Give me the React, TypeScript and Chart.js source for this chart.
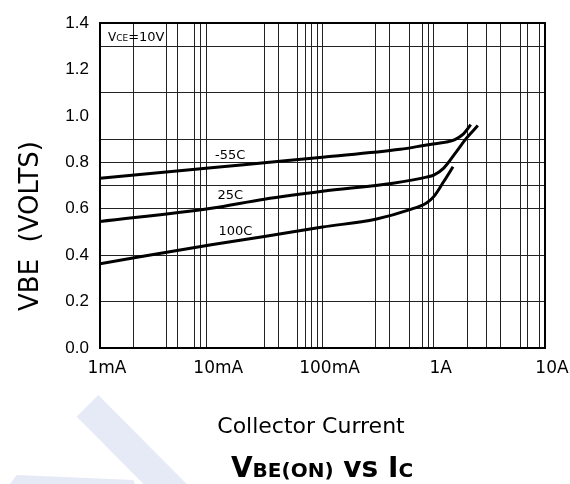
import React, { useEffect, useRef } from "react";
import { Chart, registerables } from "chart.js";

Chart.register(...registerables);

// ---- data ----
const seriesNames = ["-55C", "25C", "100C"];

const currentM55 = [0.001, 0.01, 0.03, 0.1, 0.5, 0.9, 1.3, 1.55, 1.83, 2.15];
const vbeM55 = [0.731, 0.776, 0.798, 0.822, 0.856, 0.876, 0.887, 0.898, 0.92, 0.962];

const current25 = [0.001, 0.01, 0.03, 0.1, 0.43, 0.86, 1.0, 1.23, 1.6, 1.97, 2.49];
const vbe25 = [0.545, 0.602, 0.641, 0.675, 0.71, 0.736, 0.745, 0.775, 0.846, 0.904, 0.958];

const current100 = [0.001, 0.01, 0.03, 0.1, 0.3, 0.6, 0.86, 1.0, 1.23, 1.49];
const vbe100 = [0.363, 0.445, 0.48, 0.521, 0.555, 0.595, 0.625, 0.652, 0.717, 0.781];

const xTickValues = [0.001, 0.01, 0.1, 1, 10];
const xTickLabels = ["1mA", "10mA", "100mA", "1A", "10A"];
const xGridValues = [
  0.001, 0.002, 0.004, 0.005, 0.007, 0.008, 0.009,
  0.03, 0.04, 0.06, 0.07, 0.08, 0.09, 0.1,
  0.3, 0.4, 0.6, 0.8, 0.9, 1,
  2, 3, 4, 6, 7, 9, 10,
];

const yLabelValues = [0, 0.2, 0.4, 0.6, 0.8, 1.0, 1.2, 1.4];
const yGridValues = [0, 0.2, 0.4, 0.6, 0.7, 0.8, 0.9, 1.1, 1.3, 1.4];

// curve label anchors (current, vbe)
const labelCurrents = [0.0108, 0.0114, 0.0116];
const labelVbe = [0.813, 0.64, 0.4875];

const FONT = '"DejaVu Sans", "Liberation Sans", Arial, sans-serif';
const FONT2 = '"Liberation Sans", Arial, sans-serif';

function near(a: number, list: number[]) {
  return list.some((v) => Math.abs(v - a) < 1e-6);
}

const decorPlugin = {
  id: "decor",
  beforeDraw(chart: any) {
    const ctx = chart.ctx;
    ctx.save();
    ctx.fillStyle = "#e6eaf6";
    ctx.beginPath();
    ctx.moveTo(76.7, 416.7);
    ctx.lineTo(98.3, 395);
    ctx.lineTo(186.7, 484);
    ctx.lineTo(143.5, 484);
    ctx.closePath();
    ctx.fill();
    ctx.beginPath();
    ctx.moveTo(16.7, 475);
    ctx.lineTo(133.3, 480);
    ctx.lineTo(135, 484);
    ctx.lineTo(10, 484);
    ctx.closePath();
    ctx.fill();
    ctx.restore();
  },
  afterDraw(chart: any) {
    const ctx = chart.ctx;
    const ca = chart.chartArea;
    const xs = chart.scales.x;
    const ys = chart.scales.y;
    ctx.save();
    // frame
    ctx.strokeStyle = "#000";
    ctx.lineWidth = 2;
    ctx.strokeRect(ca.left, ca.top, ca.right - ca.left, ca.bottom - ca.top);

    ctx.fillStyle = "#000";
    // y tick labels
    ctx.font = `17px ${FONT2}`;
    ctx.textAlign = "right";
    ctx.textBaseline = "middle";
    yLabelValues.forEach((v) => {
      ctx.fillText(v.toFixed(1), ca.left - 11, ys.getPixelForValue(v));
    });
    // x tick labels
    ctx.font = `17px ${FONT}`;
    ctx.textAlign = "center";
    xTickValues.forEach((v, i) => {
      ctx.fillText(xTickLabels[i], xs.getPixelForValue(v) + 7, ca.bottom + 21);
    });

    // curve labels
    ctx.font = `13px ${FONT}`;
    ctx.textAlign = "left";
    ctx.textBaseline = "alphabetic";
    seriesNames.forEach((n, i) => {
      ctx.fillText(n, xs.getPixelForValue(labelCurrents[i]), ys.getPixelForValue(labelVbe[i]));
    });

    // VCE=10V
    let x = ca.left + 8;
    const by = ca.top + 18;
    ctx.font = `12px ${FONT}`;
    ctx.fillText("V", x, by);
    x += ctx.measureText("V").width;
    ctx.font = `9px ${FONT}`;
    ctx.fillText("CE", x, by);
    x += ctx.measureText("CE").width;
    ctx.font = `13px ${FONT}`;
    ctx.fillText("=10V", x, by);

    // x axis title
    ctx.font = `22px ${FONT}`;
    ctx.textAlign = "center";
    ctx.fillText("Collector Current", 311, 433);

    // y axis title
    ctx.save();
    ctx.translate(38, 226);
    ctx.rotate(-Math.PI / 2);
    ctx.textAlign = "center";
    ctx.font = `26px ${FONT}`;
    ctx.fillText("VBE  (VOLTS)", 0, 0);
    ctx.restore();

    // main title with mixed sizes
    const runs = [
      { t: "V", s: 28 },
      { t: "BE(ON)", s: 20 },
      { t: " vs ", s: 28 },
      { t: "I", s: 28 },
      { t: "C", s: 20 },
    ];
    let total = 0;
    runs.forEach((r) => {
      ctx.font = `bold ${r.s}px ${FONT}`;
      total += ctx.measureText(r.t).width;
    });
    let tx = 322 - total / 2;
    ctx.textAlign = "left";
    runs.forEach((r) => {
      ctx.font = `bold ${r.s}px ${FONT}`;
      ctx.fillText(r.t, tx, 477);
      tx += ctx.measureText(r.t).width;
    });
    ctx.restore();
  },
};

export default function App() {
  const ref = useRef<HTMLCanvasElement | null>(null);
  useEffect(() => {
    if (!ref.current) return;
    const mk = (xs: number[], ys: number[]) => xs.map((x, i) => ({ x, y: ys[i] }));
    const lineStyle = {
      showLine: true,
      borderColor: "#000",
      borderWidth: 3,
      pointRadius: 0,
      cubicInterpolationMode: "monotone" as const,
      fill: false,
    };
    const chart = new Chart(ref.current, {
      type: "scatter",
      data: {
        datasets: [
          { label: seriesNames[0], data: mk(currentM55, vbeM55), ...lineStyle },
          { label: seriesNames[1], data: mk(current25, vbe25), ...lineStyle },
          { label: seriesNames[2], data: mk(current100, vbe100), ...lineStyle },
        ],
      },
      options: {
        animation: false,
        responsive: false,
        devicePixelRatio: 1,
        layout: { padding: { left: 100, right: 25, top: 23, bottom: 136 } },
        plugins: { legend: { display: false }, tooltip: { enabled: false } },
        scales: {
          x: {
            type: "logarithmic",
            min: 0.001,
            max: 10,
            afterBuildTicks: (s: any) => {
              s.ticks = xGridValues.map((v) => ({ value: v }));
            },
            ticks: { display: false },
            grid: { color: "#222", lineWidth: 1, drawTicks: false },
            border: { display: true, color: "#000", width: 2 },
          },
          y: {
            type: "linear",
            min: 0,
            max: 1.4,
            afterBuildTicks: (s: any) => {
              const all = Array.from(new Set([...yLabelValues, ...yGridValues].map((v) => Math.round(v * 10) / 10))).sort(
                (a, b) => a - b
              );
              s.ticks = all.map((v) => ({ value: v }));
            },
            ticks: { display: false },
            grid: {
              color: (c: any) => (c.tick && near(c.tick.value, yGridValues) ? "#222" : "rgba(0,0,0,0)"),
              lineWidth: 1,
              drawTicks: false,
            },
            border: { display: true, color: "#000", width: 2 },
          },
        },
      },
      plugins: [decorPlugin],
    });
    return () => chart.destroy();
  }, []);
  return (
    <div style={{ position: "fixed", left: 0, top: 0, width: 570, height: 484, background: "#fff" }}>
      <canvas ref={ref} width={570} height={484} style={{ display: "block" }} />
    </div>
  );
}
